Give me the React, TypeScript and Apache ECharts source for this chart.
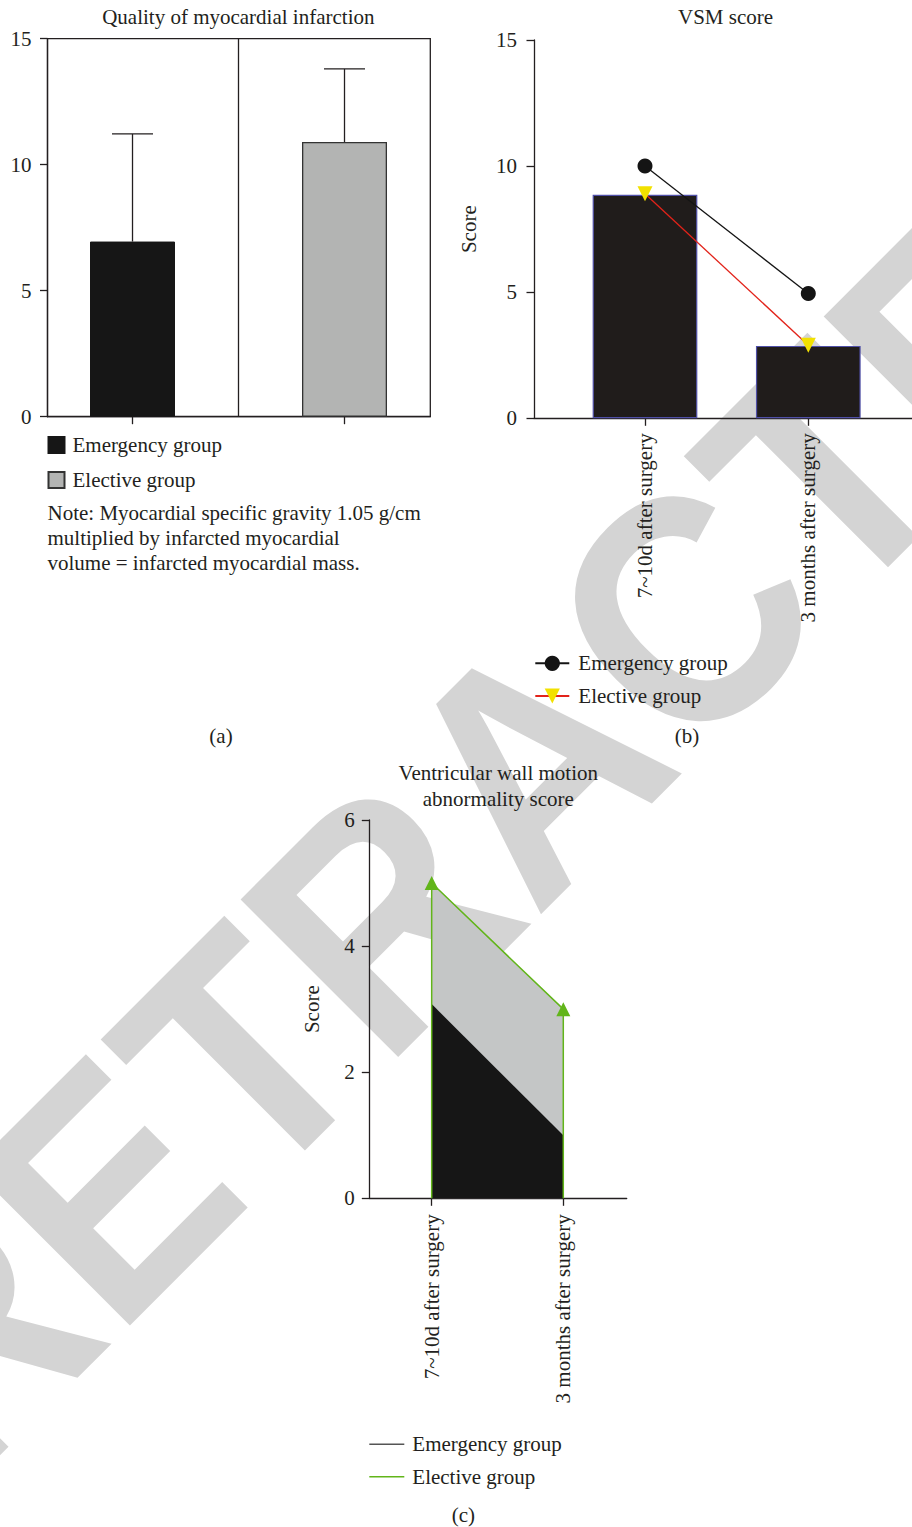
import React, { useEffect, useRef } from 'react';
import * as echarts from 'echarts';

const FONT = '"Liberation Serif", "Times New Roman", serif';
const INK = '#231f20';

// ---- Panel (a): Quality of myocardial infarction ----
const groupNames = ['Emergency group', 'Elective group'];
const massMeans = [6.95, 10.9];
const massSD = [4.27, 2.9];
const massTicks = [0, 5, 10, 15];

// ---- Panel (b): VSM score ----
const timePoints = ['7~10d after surgery', '3 months after surgery'];
const vsmBars = [8.86, 2.87];
const vsmEmergency = [10.0, 4.95];
const vsmElective = [8.9, 2.9];
const vsmTicks = [0, 5, 10, 15];

// ---- Panel (c): Ventricular wall motion abnormality score ----
const wallEmergency = [3.08, 1.0];
const wallElective = [5.0, 3.0];
const wallTicks = [0, 2, 4, 6];

const noteLines = [
  'Note: Myocardial specific gravity 1.05 g/cm',
  'multiplied by infarcted myocardial',
  'volume = infarcted myocardial mass.',
];
const titleC = ['Ventricular wall motion', 'abnormality score'];

const key = (panel: string, name: string) => `${panel}:${name}`;
const strip = (n: string) => n.split(':').slice(1).join(':');

const labelStyle = { fontFamily: FONT, fontSize: 21, color: INK };

function xAxisFor(gridIndex: number, min: number, max: number, withLabels: boolean, margin: number) {
  return {
    type: 'value',
    gridIndex,
    min,
    max,
    axisLine: { show: true, onZero: false, lineStyle: { color: INK, width: 1.3 } },
    axisTick: { show: true, customValues: [0, 1], length: 7.5, lineStyle: { color: INK, width: 1.3 } },
    axisLabel: withLabels
      ? {
          show: true,
          customValues: [0, 1],
          rotate: 90,
          margin,
          ...labelStyle,
          formatter: (v: number) => timePoints[Math.round(v)] ?? '',
        }
      : { show: false },
    splitLine: { show: false },
  };
}

function yAxisFor(gridIndex: number, ticks: number[], name: string, nameGap: number, labelMargin: number) {
  return {
    type: 'value',
    gridIndex,
    min: ticks[0],
    max: ticks[ticks.length - 1],
    interval: ticks[1] - ticks[0],
    name,
    nameLocation: 'middle',
    nameGap,
    nameTextStyle: labelStyle,
    axisLine: { show: true, onZero: false, lineStyle: { color: INK, width: 1.3 } },
    axisTick: { show: true, length: 7.5, lineStyle: { color: INK, width: 1.3 } },
    axisLabel: { margin: labelMargin, ...labelStyle },
    splitLine: { show: false },
  };
}

function textEl(text: string, x: number, y: number, align = 'center', extra: any = {}) {
  return {
    type: 'text',
    x,
    y,
    z: 10,
    style: {
      text,
      fill: INK,
      font: `21px ${FONT}`,
      align,
      verticalAlign: 'middle',
      textAlign: align,
      textVerticalAlign: 'middle',
      ...extra,
    },
  };
}

export default function App() {
  const ref = useRef<HTMLDivElement>(null);

  useEffect(() => {
    if (!ref.current) return;
    const chart = echarts.init(ref.current, null, { renderer: 'svg' });

    const errData = massMeans.map((m, i) => [i, m, m + massSD[i]]);
    const outline: any[] = [
      { value: [0, 0], symbol: 'none' },
      ...wallElective.map((v, i) => ({ value: [i, v] })),
      { value: [wallElective.length - 1, 0], symbol: 'none' },
    ];

    const legendBase = {
      formatter: strip,
      orient: 'vertical',
      padding: 0,
      selectedMode: false,
    };

    const option: any = {
      animation: false,
      backgroundColor: '#ffffff',
      grid: [
        { left: 47.5, top: 38.7, width: 382.8, height: 378, show: true, borderColor: INK, borderWidth: 1.3, backgroundColor: 'transparent' },
        { left: 534, top: 40, width: 378, height: 378.3 },
        { left: 369.3, top: 820, width: 257.4, height: 378.3 },
      ],
      xAxis: [
        xAxisFor(0, -0.401, 1.4047, false, 0),
        xAxisFor(1, -0.6797, 1.635, true, 15),
        xAxisFor(2, -0.474, 1.4818, true, 16),
      ],
      yAxis: [
        yAxisFor(0, massTicks, '', 0, 16),
        yAxisFor(1, vsmTicks, 'Score', 55, 17),
        yAxisFor(2, wallTicks, 'Score', 47, 14.5),
      ],
      legend: [
        {
          ...legendBase,
          data: groupNames.map((n) => ({ name: key('a', n), icon: 'rect' })),
          left: 47.5,
          top: 433,
          itemWidth: 16,
          itemHeight: 16,
          itemGap: 11,
          textStyle: { ...labelStyle, lineHeight: 24, padding: [0, 0, 0, 3] },
        },
        {
          ...legendBase,
          data: groupNames.map((n) => key('b', n)),
          left: 534.3,
          top: 651.3,
          itemWidth: 34,
          itemHeight: 19,
          itemGap: 8.7,
          textStyle: { ...labelStyle, lineHeight: 24, padding: [0, 0, 0, 4] },
        },
        {
          ...legendBase,
          data: groupNames.map((n) => ({ name: key('c', n), icon: 'rect' })),
          left: 369.3,
          top: 1432.3,
          itemWidth: 35,
          itemHeight: 1.5,
          itemGap: 8.4,
          textStyle: { ...labelStyle, lineHeight: 24, padding: [0, 0, 0, 3] },
        },
      ],
      graphic: [
        {
          type: 'text',
          x: -115,
          y: 1411.8,
          rotation: Math.PI / 4,
          scaleX: 0.917,
          scaleY: 1,
          z: -10,
          silent: true,
          style: {
            text: 'RETRACTED',
            font: 'bold 324px "Liberation Sans", Arial, sans-serif',
            fill: '#d4d4d4',
            align: 'left',
            verticalAlign: 'middle',
            textAlign: 'left',
            textVerticalAlign: 'middle',
          },
        },
        textEl('Quality of myocardial infarction', 238.3, 16.7),
        textEl('VSM score', 725.5, 16.7),
        ...titleC.map((t, i) => textEl(t, 498.3, 773.3 + 26 * i)),
        ...noteLines.map((t, i) => textEl(t, 47.5, 512.7 + 25.3 * i, 'left')),
        textEl('(a)', 221, 736),
        textEl('(b)', 687, 736),
        textEl('(c)', 463.3, 1515),
      ],
      series: [
        // (a)
        {
          type: 'bar',
          name: key('a', groupNames[0]),
          xAxisIndex: 0,
          yAxisIndex: 0,
          data: [[0, massMeans[0]]],
          barWidth: 85,
          barGap: '-100%',
          itemStyle: { color: '#161616', borderColor: '#161616', borderWidth: 1 },
          markLine: {
            silent: true,
            symbol: ['none', 'none'],
            label: { show: false },
            lineStyle: { color: INK, width: 1.3, type: 'solid' },
            data: [{ xAxis: 0.5 }],
          },
        },
        {
          type: 'bar',
          name: key('a', groupNames[1]),
          xAxisIndex: 0,
          yAxisIndex: 0,
          data: [[1, massMeans[1]]],
          barWidth: 85,
          barGap: '-100%',
          itemStyle: { color: '#b3b4b3', borderColor: '#333333', borderWidth: 1.3 },
        },
        {
          type: 'custom',
          name: 'a:error',
          xAxisIndex: 0,
          yAxisIndex: 0,
          z: 5,
          encode: { x: 0, y: [1, 2] },
          data: errData,
          renderItem: (params: any, api: any) => {
            const x = api.value(0);
            const p0 = api.coord([x, api.value(1)]);
            const p1 = api.coord([x, api.value(2)]);
            const cap = 20.5;
            const st = { stroke: INK, lineWidth: 1.3 };
            return {
              type: 'group',
              children: [
                { type: 'line', shape: { x1: p0[0], y1: p0[1], x2: p1[0], y2: p1[1] }, style: st },
                { type: 'line', shape: { x1: p1[0] - cap, y1: p1[1], x2: p1[0] + cap, y2: p1[1] }, style: st },
              ],
            };
          },
        },
        // (b)
        {
          type: 'bar',
          name: 'b:bars',
          xAxisIndex: 1,
          yAxisIndex: 1,
          data: vsmBars.map((v, i) => [i, v]),
          barWidth: 104.7,
          itemStyle: { color: '#201c1b', borderColor: '#5050a8', borderWidth: 1.2 },
          z: 2,
        },
        {
          type: 'line',
          name: key('b', groupNames[0]),
          xAxisIndex: 1,
          yAxisIndex: 1,
          data: vsmEmergency.map((v, i) => [i, v]),
          symbol: 'circle',
          symbolSize: 15,
          itemStyle: { color: '#141414' },
          lineStyle: { color: '#141414', width: 1.3 },
          z: 3,
        },
        {
          type: 'line',
          name: key('b', groupNames[1]),
          xAxisIndex: 1,
          yAxisIndex: 1,
          data: vsmElective.map((v, i) => [i, v]),
          symbol: 'triangle',
          symbolRotate: 180,
          symbolSize: 15,
          itemStyle: { color: '#f2e100' },
          lineStyle: { color: '#e2231a', width: 1.3 },
          z: 4,
        },
        // (c)
        {
          type: 'line',
          name: 'c:area',
          xAxisIndex: 2,
          yAxisIndex: 2,
          data: wallElective.map((v, i) => [i, v]),
          symbol: 'none',
          lineStyle: { width: 0 },
          areaStyle: { color: '#c4c6c6', opacity: 1 },
          z: 1,
        },
        {
          type: 'line',
          name: key('c', groupNames[0]),
          xAxisIndex: 2,
          yAxisIndex: 2,
          data: wallEmergency.map((v, i) => [i, v]),
          symbol: 'none',
          itemStyle: { color: '#555555' },
          lineStyle: { width: 0, color: '#555555' },
          areaStyle: { color: '#161616', opacity: 1 },
          z: 2,
        },
        {
          type: 'line',
          name: key('c', groupNames[1]),
          xAxisIndex: 2,
          yAxisIndex: 2,
          data: outline,
          symbol: 'triangle',
          symbolSize: 14,
          itemStyle: { color: '#62b51a' },
          lineStyle: { color: '#62b51a', width: 1.5 },
          z: 3,
        },
      ],
    };

    chart.setOption(option);
    return () => chart.dispose();
  }, []);

  return (
    <div
      ref={ref}
      style={{ position: 'absolute', left: 0, top: 0, width: 912, height: 1527, background: '#fff' }}
    />
  );
}
